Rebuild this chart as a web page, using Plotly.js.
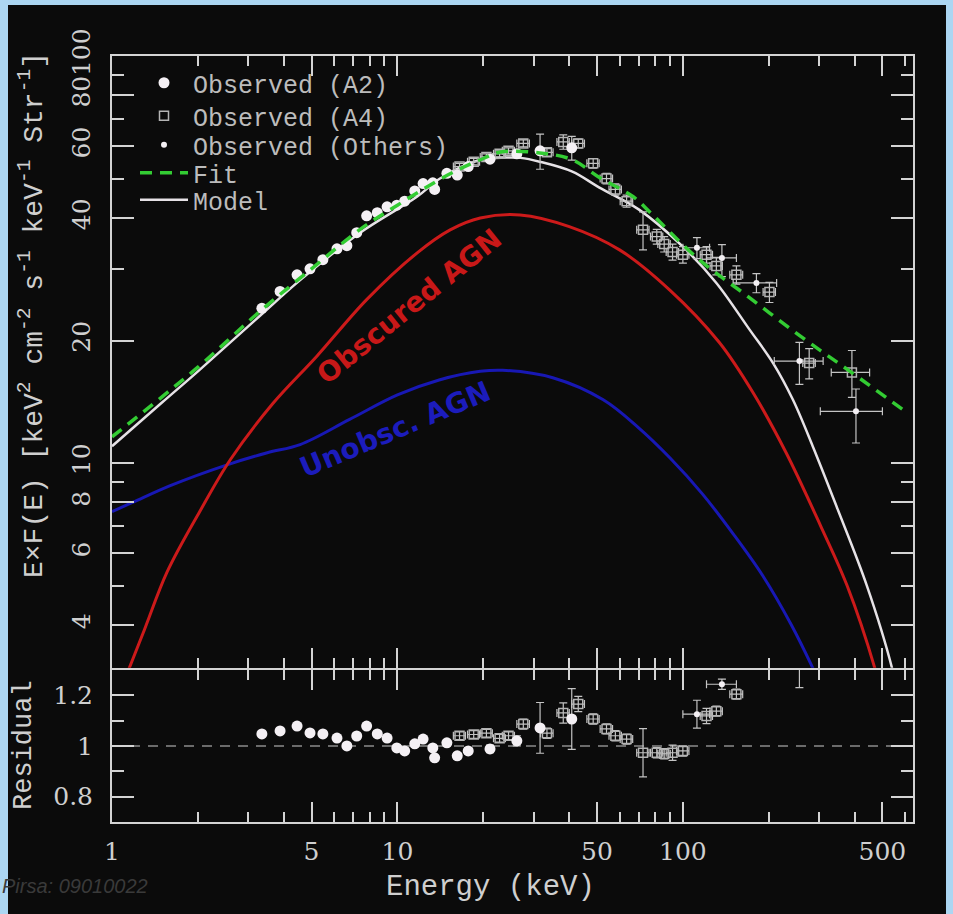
<!DOCTYPE html>
<html>
<head>
<meta charset="utf-8">
<script src="https://cdn.plot.ly/plotly-3.0.1.min.js"></script>
<style>html,body{margin:0;padding:0;background:#acd6f2;}#chart{width:953px;height:914px;}</style>
</head>
<body>
<div id="chart"></div>
<script>
// ---------- model curves ----------
const modelE = [1, 1.5, 2, 3.3, 4.55, 7.4, 11.7, 14.1, 19.5, 24, 27, 31.5, 41, 51, 70, 100, 131, 171, 207, 243, 285, 346, 441, 540, 570];
const modelF = [11.0, 14.1, 16.8, 23.0, 28.1, 36.8, 45.1, 50.0, 55.6, 56.3, 56.2, 55.0, 52.0, 47.5, 42.0, 34.0, 27.7, 21.3, 17.6, 14.3, 11.0, 7.8, 5.0, 3.14, 2.6];

const fitE = [1, 2, 3.3, 5, 7.4, 10, 15, 20, 23, 31.5, 41, 51, 67, 77, 114, 171, 258, 385, 610];
const fitF = [11.6, 17.2, 23.6, 30.0, 37.5, 43.0, 51.0, 56.0, 58.1, 57.8, 55.6, 50.3, 45.1, 41.2, 31.6, 25.5, 20.5, 16.8, 13.3];

const obscE = [1.1, 1.3, 1.56, 2.03, 2.6, 3.66, 5.22, 7.8, 11.7, 15.3, 19.5, 26.9, 40, 60, 90, 134, 176, 230, 304, 376, 470, 490];
const obscF = [2.9, 3.9, 5.4, 7.6, 10.2, 14.0, 18.3, 25.2, 32.8, 37.4, 40.0, 40.7, 38.1, 33.4, 26.6, 19.8, 14.9, 10.6, 7.0, 5.0, 3.14, 2.8];

const unobsE = [1, 1.18, 1.6, 2.53, 3.5, 4.56, 6.8, 10, 14, 19.5, 23.4, 35, 52.6, 70, 90, 117, 150, 190, 240, 285, 300];
const unobsF = [7.6, 8.0, 8.8, 9.9, 10.6, 11.1, 12.8, 14.7, 16.0, 16.8, 16.9, 16.2, 14.3, 12.2, 10.3, 8.4, 6.7, 5.3, 4.0, 3.14, 2.9];

// ---------- observed (A2) ----------
const a2E = [3.35, 3.88, 4.45, 4.94, 5.48, 6.14, 6.65, 7.2, 7.8, 8.5, 9.2, 9.95, 10.6, 11.5, 12.3, 13.3, 13.5, 14.9, 16.2, 17.7, 21.1, 26.2, 31.6, 40.8];
const a2F = [24.0, 26.4, 29.0, 30.0, 31.6, 33.6, 34.2, 36.8, 40.5, 41.2, 42.6, 43.0, 44.0, 46.6, 48.6, 48.8, 47.0, 51.5, 51.0, 53.5, 55.8, 57.5, 58.5, 59.5];
const a2FErr = [0.4, 0.4, 0.4, 0.4, 0.4, 0.4, 0.4, 0.4, 0.5, 0.5, 0.5, 0.5, 0.5, 0.5, 0.5, 0.5, 0.5, 0.6, 0.6, 0.6, 0.8, 1.2, 5.8, 4.0];
const a2R = [1.047, 1.059, 1.078, 1.051, 1.047, 1.031, 1.000, 1.039, 1.078, 1.047, 1.031, 0.992, 0.980, 1.008, 1.027, 0.992, 0.953, 1.012, 0.961, 0.980, 0.988, 1.020, 1.071, 1.106];
const a2RErr = [0.01, 0.01, 0.01, 0.01, 0.01, 0.01, 0.01, 0.01, 0.01, 0.01, 0.01, 0.01, 0.01, 0.01, 0.01, 0.01, 0.01, 0.012, 0.012, 0.012, 0.015, 0.02, 0.10, 0.12];

// ---------- observed (A4) ----------
const a4E = [16.5, 18.5, 20.5, 22.8, 24.5, 27.6, 33.4, 38.1, 43.0, 48.5, 54.0, 58.0, 63.5, 72.5, 81, 86, 92, 100, 121, 131, 154, 201, 277, 391];
const a4F = [53.5, 55.0, 56.5, 57.5, 58.5, 61.0, 58.0, 61.5, 61.0, 54.5, 50.0, 47.0, 44.0, 37.4, 36.0, 34.5, 33.0, 32.5, 32.5, 30.5, 29.0, 26.3, 17.6, 16.7];
const a4FErr = [1.0, 1.0, 1.0, 1.0, 1.0, 1.2, 1.2, 2.5, 1.5, 1.5, 1.5, 1.5, 1.5, 4.0, 1.5, 1.5, 1.5, 1.5, 1.5, 1.5, 1.5, 1.5, 1.5, 2.2];
const a4R = [1.04, 1.045, 1.05, 1.03, 1.04, 1.086, 1.05, 1.13, 1.165, 1.106, 1.067, 1.04, 1.027, 0.973, 0.973, 0.969, 0.973, 0.98, 1.118, 1.137, 1.204, null, null, null];
const a4RErr = [0.015, 0.015, 0.015, 0.015, 0.015, 0.02, 0.02, 0.04, 0.03, 0.02, 0.02, 0.02, 0.02, 0.095, 0.02, 0.02, 0.03, 0.02, 0.03, 0.02, 0.02, 0, 0, 0];
const a4EErr = [0.8, 0.9, 1.0, 1.1, 1.2, 1.4, 1.7, 1.9, 2.2, 2.4, 2.7, 2.9, 3.2, 3.6, 4.0, 4.3, 4.6, 5.0, 6.0, 6.5, 8.0, 10, 14, 60];

// ---------- observed (Others) ----------
const othE = [112, 137, 181, 256, 404];
const othF = [33.8, 31.9, 27.7, 17.8, 13.4];
const othFErrP = [2.0, 2.5, 1.5, 2.0, 1.8];
const othFErrM = [2.0, 3.2, 1.5, 2.2, 2.2];
const othEErrP = [12, 17, 32, 54, 96];
const othEErrM = [12, 16, 31, 47, 101];
const othR = [1.125, 1.243, null, 1.34, null];
const othRErr = [0.055, 0.02, 0, 0.11, 0];

// ---------- ticks ----------
const xTickVals = [1, 5, 10, 50, 100, 500];
const xTickText = ['1', '5', '10', '50', '100', '500'];
const xMinorVals = [2, 3, 4, 6, 7, 8, 9, 20, 30, 40, 60, 70, 80, 90, 200, 300, 400, 600];
const yTickVals = [4, 6, 8, 10, 20, 40, 60, 80, 100];
const yTickText = ['4', '6', '8', '10', '20', '40', '60', '80', '100'];
const yMinorVals = [3, 5, 7, 9, 30, 50, 70, 90];
const rTickVals = [0.8, 1, 1.2];
const rTickText = ['0.8', '1', '1.2'];
const rMinorVals = [0.9, 1.1];
const refLevel = 1;

// ---------- styling ----------
const AX = '#d4d4d4';
const TXT = '#cfcfcf';
const ERR = '#c4c4c4';
const tickFont = {family: 'DejaVu Serif', size: 25, color: TXT};
const L = 112, R = 913, T = 56, B = 822;
const px = v => (v - L) / (R - L);
const py = v => (B - v) / (B - T);
const xRange = [0, Math.log10(640)];
const yRange = [Math.log10(3.14), 2];
const rRange = [0.7, 1.3];
const split = 0.2, half = 1 / (B - T);

const errStyle = {color: ERR, thickness: 1.2, width: 4};

const traces = [
  {x: unobsE, y: unobsF, xaxis: 'x', yaxis: 'y', mode: 'lines', line: {color: '#1818b4', width: 3, shape: 'spline'}, showlegend: false, hoverinfo: 'skip'},
  {x: obscE, y: obscF, xaxis: 'x', yaxis: 'y', mode: 'lines', line: {color: '#cc1a1a', width: 3, shape: 'spline'}, showlegend: false, hoverinfo: 'skip'},
  {x: modelE, y: modelF, xaxis: 'x', yaxis: 'y', mode: 'lines', name: 'Model', legend: 'legend5', line: {color: '#e6e2e6', width: 2.5, shape: 'spline'}},
  {x: a4E, y: a4F, xaxis: 'x', yaxis: 'y', mode: 'markers', name: 'Observed (A4)', legend: 'legend2',
   marker: {symbol: 'square-open', size: 9, color: '#b4b4b4', line: {width: 1.5}},
   error_y: Object.assign({type: 'data', array: a4FErr}, errStyle),
   error_x: Object.assign({type: 'data', array: a4EErr}, errStyle)},
  {x: a2E, y: a2F, xaxis: 'x', yaxis: 'y', mode: 'markers', name: 'Observed (A2)', legend: 'legend',
   marker: {symbol: 'circle', size: 11, color: '#f4f0f4'},
   error_y: Object.assign({type: 'data', array: a2FErr}, errStyle)},
  {x: othE, y: othF, xaxis: 'x', yaxis: 'y', mode: 'markers', name: 'Observed (Others)', legend: 'legend3',
   marker: {symbol: 'circle', size: 6, color: '#f4f0f4'},
   error_y: Object.assign({type: 'data', symmetric: false, array: othFErrP, arrayminus: othFErrM}, errStyle),
   error_x: Object.assign({type: 'data', symmetric: false, array: othEErrP, arrayminus: othEErrM}, errStyle)},
  {x: fitE, y: fitF, xaxis: 'x', yaxis: 'y', mode: 'lines', name: 'Fit', legend: 'legend4', line: {color: '#33cc33', width: 3.5, dash: '12px,8px', shape: 'spline'}},
  // residual panel
  {x: a4E, y: a4R, xaxis: 'x', yaxis: 'y2', mode: 'markers', showlegend: false,
   marker: {symbol: 'square-open', size: 9, color: '#b4b4b4', line: {width: 1.5}},
   error_y: Object.assign({type: 'data', array: a4RErr}, errStyle),
   error_x: Object.assign({type: 'data', array: a4EErr}, errStyle)},
  {x: a2E, y: a2R, xaxis: 'x', yaxis: 'y2', mode: 'markers', showlegend: false,
   marker: {symbol: 'circle', size: 11, color: '#f4f0f4'},
   error_y: Object.assign({type: 'data', array: a2RErr}, errStyle)},
  {x: othE, y: othR, xaxis: 'x', yaxis: 'y2', mode: 'markers', showlegend: false,
   marker: {symbol: 'circle', size: 6, color: '#f4f0f4'},
   error_y: Object.assign({type: 'data', array: othRErr}, errStyle),
   error_x: Object.assign({type: 'data', symmetric: false, array: othEErrP, arrayminus: othEErrM}, errStyle)},
  // empty holders so the overlay tick axes get their subplots
  {x: [], y: [], xaxis: 'x3', yaxis: 'y2', mode: 'markers', showlegend: false, hoverinfo: 'skip'},
  {x: [], y: [], xaxis: 'x4', yaxis: 'y', mode: 'markers', showlegend: false, hoverinfo: 'skip'},
  {x: [], y: [], xaxis: 'x5', yaxis: 'y', mode: 'markers', showlegend: false, hoverinfo: 'skip'},
  {x: [], y: [], xaxis: 'x', yaxis: 'y3', mode: 'markers', showlegend: false, hoverinfo: 'skip'},
  {x: [], y: [], xaxis: 'x', yaxis: 'y4', mode: 'markers', showlegend: false, hoverinfo: 'skip'}
];

const legendBase = {xanchor: 'left', yanchor: 'middle', bgcolor: 'rgba(0,0,0,0)', borderwidth: 0,
  font: {family: 'Liberation Mono', size: 25, color: '#bcbcbc'}, itemwidth: 48};
const legendRows = [83, 116, 145, 173, 200];
function leg(i) { return Object.assign({}, legendBase, {x: px(135), y: py(legendRows[i])}); }

const titleFont = {family: 'Liberation Mono', size: 28, color: TXT};

const commonAx = {showgrid: false, zeroline: false, automargin: false, tickwidth: 2, tickcolor: AX, ticks: 'inside', tickmode: 'array'};
function overlayAx(extra) {
  return Object.assign({}, commonAx, {showline: false, showticklabels: false, mirror: 'ticks'}, extra);
}

const layout = {
  width: 953, height: 914, autosize: false,
  margin: {l: L, r: 953 - R, t: T, b: 914 - B, pad: 0},
  paper_bgcolor: '#acd6f2', plot_bgcolor: '#0b0b0b',
  showlegend: true,
  legend: leg(0), legend2: leg(1), legend3: leg(2), legend4: leg(3), legend5: leg(4),
  xaxis: Object.assign({}, commonAx, {type: 'log', range: xRange, anchor: 'y2', domain: [0, 1],
    showline: true, linecolor: AX, linewidth: 2, mirror: 'ticks', ticklen: 20,
    tickvals: xTickVals, ticktext: xTickText, tickfont: tickFont, ticklabelstandoff: 6}),
  xaxis3: overlayAx({type: 'log', range: xRange, overlaying: 'x', anchor: 'y2', ticklen: 10, tickvals: xMinorVals}),
  xaxis4: overlayAx({type: 'log', range: xRange, overlaying: 'x', anchor: 'y', ticklen: 10, tickvals: xMinorVals}),
  xaxis5: overlayAx({type: 'log', range: xRange, overlaying: 'x', anchor: 'y', ticklen: 20, tickvals: xTickVals,
    showline: true, linecolor: AX, linewidth: 2}),
  yaxis: Object.assign({}, commonAx, {type: 'log', range: yRange, domain: [split + half, 1], anchor: 'x',
    showline: true, linecolor: AX, linewidth: 2, mirror: 'ticks', ticklen: 22,
    tickvals: yTickVals, ticktext: yTickText, tickfont: tickFont, tickangle: -90, ticklabelstandoff: 10}),
  yaxis3: overlayAx({type: 'log', range: yRange, overlaying: 'y', anchor: 'x', ticklen: 12, tickvals: yMinorVals}),
  yaxis2: Object.assign({}, commonAx, {type: 'linear', range: rRange, domain: [0, split - half], anchor: 'x',
    showline: true, linecolor: AX, linewidth: 2, mirror: 'ticks', ticklen: 22,
    tickvals: rTickVals, ticktext: rTickText, tickfont: tickFont, ticklabelstandoff: 12}),
  yaxis4: overlayAx({type: 'linear', range: rRange, overlaying: 'y2', anchor: 'x', ticklen: 12, tickvals: rMinorVals}),
  shapes: [
    {type: 'rect', xref: 'paper', yref: 'paper', x0: px(8), x1: px(946), y0: py(920), y1: py(5), fillcolor: '#0b0b0b', line: {width: 0}, layer: 'below'},
    {type: 'line', xref: 'x domain', yref: 'y2', x0: 0, x1: 1, y0: refLevel, y1: refLevel, line: {color: '#8c8c8c', width: 1.5, dash: '10px,8px'}, layer: 'below'}
  ],
  annotations: [
    {xref: 'paper', yref: 'paper', x: px(32), y: py(315), xanchor: 'center', yanchor: 'middle', textangle: -90, showarrow: false,
     text: 'E×F(E) [keV<sup>2</sup> cm<sup>-2</sup> s<sup>-1</sup> keV<sup>-1</sup> Str<sup>-1</sup>]', font: titleFont},
    {xref: 'paper', yref: 'paper', x: px(24), y: py(745), xanchor: 'center', yanchor: 'middle', textangle: -90, showarrow: false,
     text: 'Residual', font: {family: 'Liberation Mono', size: 27, color: TXT}},
    {xref: 'paper', yref: 'paper', x: px(490), y: py(887), xanchor: 'center', yanchor: 'middle', showarrow: false,
     text: 'Energy (keV)', font: {family: 'Liberation Mono', size: 29, color: TXT}},
    {xref: 'paper', yref: 'paper', x: px(409), y: py(306), xanchor: 'center', yanchor: 'middle', textangle: -39, showarrow: false,
     text: 'Obscured AGN', font: {family: 'DejaVu Sans', size: 28, color: '#c81818', weight: 'bold'}},
    {xref: 'paper', yref: 'paper', x: px(395), y: py(429), xanchor: 'center', yanchor: 'middle', textangle: -23, showarrow: false,
     text: 'Unobsc. AGN', font: {family: 'DejaVu Sans', size: 28, color: '#1c1cbc', weight: 'bold'}},
    {xref: 'paper', yref: 'paper', x: px(0), y: py(886), xanchor: 'left', yanchor: 'middle', showarrow: false,
     text: 'Pirsa: 09010022', font: {family: 'Liberation Sans', size: 20, color: '#3a3a3a', style: 'italic'}}
  ]
};

Plotly.newPlot('chart', traces, layout, {displayModeBar: false, staticPlot: true});
</script>
</body>
</html>
